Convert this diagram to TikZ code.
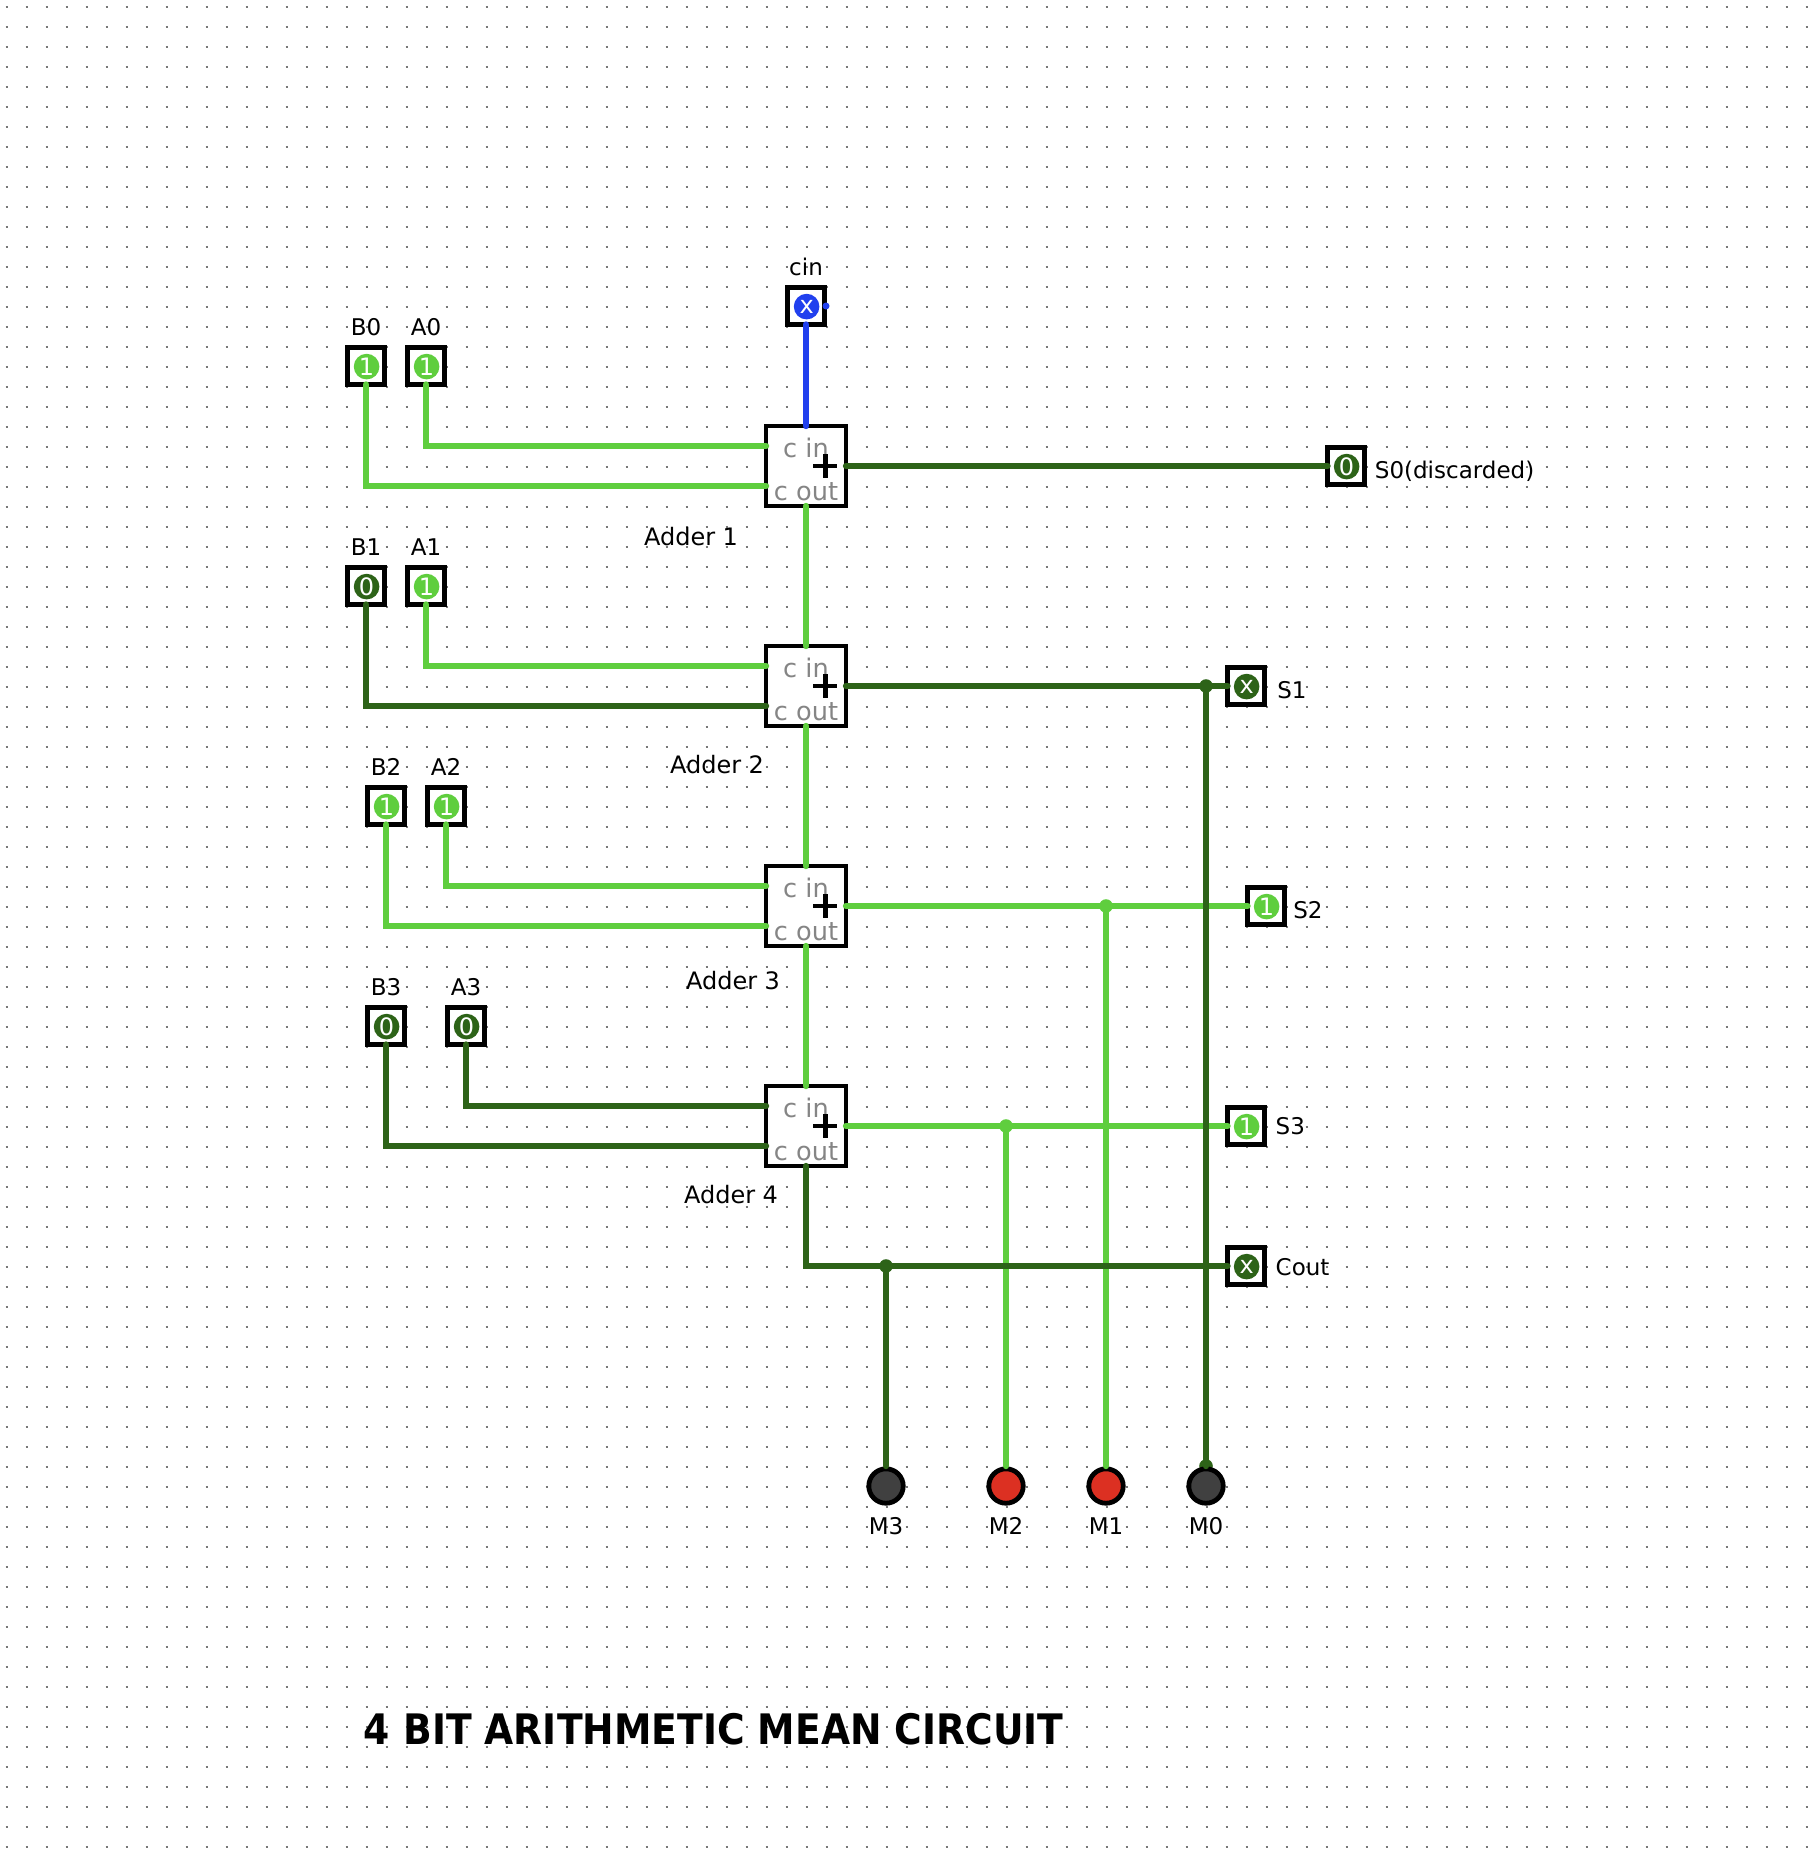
\documentclass[tikz,border=0pt]{standalone}
\usepackage{fontspec}
\setmainfont{DejaVu Sans}
\usetikzlibrary{positioning}
\definecolor{wireon}{HTML}{5FCE3E}
\definecolor{wireoff}{HTML}{2D6318}
\definecolor{wireunk}{HTML}{2140EE}
\definecolor{griddot}{HTML}{777777}
\definecolor{ledon}{HTML}{DC3022}
\definecolor{ledoff}{HTML}{404040}
\tikzset{
    iobox/.style={draw,line width=2.2pt,fill=white,minimum size=18.5pt,inner sep=0pt,outer sep=0pt},
    statedot/.style={circle,inner sep=0pt,outer sep=0pt,minimum size=12.8pt,xshift=.3pt,yshift=-.3pt,text=white,font=\fontsize{12}{12}\selectfont},
    addbox/.style={draw,line width=2.2pt,fill=white,minimum size=40pt,inner sep=0pt,outer sep=0pt},
    addtxt/.style={inner sep=0pt,text=griddot!90,anchor=base,font=\fontsize{12.8}{12}\selectfont},
    pintxt/.style={inner sep=0pt,text depth=0pt,font=\fontsize{11.5}{12}\selectfont},
    addname/.style={pintxt,anchor=base,font=\fontsize{12}{12}\selectfont},
    led/.style={circle,draw,line width=2.4pt,minimum size=17.2pt,inner sep=0pt,outer sep=0pt},
    wire/.style={line width=3.2pt,line cap=round,miter limit=10},
    joint/.style={circle,inner sep=0pt,outer sep=0pt,minimum size=6.8pt},
}
\begin{document}
\begin{tikzpicture}[x=10pt,y=-10pt]
    \useasboundingbox (-0.3335,-0.3335) rectangle (90.0665,92.7665);
    \foreach \j in {0,...,92}{
        \draw[griddot,line width=1pt,dash pattern=on 1pt off 9pt] (-.05,\j) -- (90.05,\j);
    }
    \begin{scope}[shift={(-.033,-.033)}]
    % adders
    \foreach \n/\y in {1/23,2/34,3/45,4/56}{
        \node[addbox] (adder\n) at (40,\y) {};
        \coordinate (ina\n) at (38,\y-1);
        \coordinate (inb\n) at (38,\y+1);
        \node[addtxt,yshift=-.5pt] (cin\n) at (40,\y-.5) {c in};
        \node[addtxt] (cout\n) at (40,\y+1.7) {c out};
        \draw[line width=2.2pt] (40.37,\y) -- (41.57,\y) (40.97,\y-.6) -- (40.97,\y+.6);
    }
    % input pins
    \foreach \nm/\x/\y/\val/\col in {B0/18/18/1/wireon,A0/21/18/1/wireon,
            B1/18/29/0/wireoff,A1/21/29/1/wireon,
            B2/19/40/1/wireon,A2/22/40/1/wireon,
            B3/19/51/0/wireoff,A3/23/51/0/wireoff,cin/40/15/x/wireunk}{
        \node[iobox] (pin\nm) at (\x,\y) {};
        \node[statedot,fill=\col] (dot\nm) at (pin\nm) {\val};
        \node[pintxt,above=5.9pt of pin\nm] (txt\nm) {\nm};
    }
    \node[circle,fill=wireunk,minimum size=3.5pt,inner sep=0pt] (stubcin) at (41,15) {};
    % output pins
    \foreach \nm/\x/\y/\val/\col/\gap/\dip/\txt in {S0/67/23/0/wireoff/5/6/S0(discarded),
            S1/62/34/x/wireoff/6.2/6/S1,S2/63/45/1/wireon/4.2/6/S2,
            S3/62/56/1/wireon/5.4/4.3/S3,Cout/62/63/x/wireoff/5.4/4.9/Cout}{
        \node[iobox] (pin\nm) at (\x,\y) {};
        \node[statedot,fill=\col] (dot\nm) at (pin\nm) {\val};
        \node[pintxt,anchor=base west,xshift=\gap pt,yshift=-\dip pt] (txt\nm) at (pin\nm.east) {\txt};
    }
    % leds
    \node[joint,fill=wireoff] (jointtop) at (60,73) {};
    \foreach \nm/\x/\col in {M3/44/ledoff,M2/50/ledon,M1/55/ledon,M0/60/ledoff}{
        \node[led,fill=\col] (led\nm) at (\x,74) {};
        \coordinate (tip\nm) at (\x,73);
        \node[pintxt,anchor=base] (txt\nm) at (\x,76.4) {\nm};
    }
    % adder names
    \node[addname] (name1) at (34.25,26.97) {Adder 1};
    \node[addname] (name2) at (35.55,38.36) {Adder 2};
    \node[addname] (name3) at (36.35,49.16) {Adder 3};
    \node[addname] (name4) at (36.25,59.86) {Adder 4};
    % wires
    \draw[wire,wireunk] (pincin.south) -- (adder1.north);
    \draw[wire,wireon] (pinA0.south) |- (ina1);
    \draw[wire,wireon] (pinB0.south) |- (inb1);
    \draw[wire,wireon] (pinA1.south) |- (ina2);
    \draw[wire,wireoff] (pinB1.south) |- (inb2);
    \draw[wire,wireon] (pinA2.south) |- (ina3);
    \draw[wire,wireon] (pinB2.south) |- (inb3);
    \draw[wire,wireoff] (pinA3.south) |- (ina4);
    \draw[wire,wireoff] (pinB3.south) |- (inb4);
    \draw[wire,wireon] (adder1.south) -- (adder2.north);
    \draw[wire,wireon] (adder2.south) -- (adder3.north);
    \draw[wire,wireon] (adder3.south) -- (adder4.north);
    \draw[wire,wireoff] (adder1.east) -- (pinS0.west);
    \draw[wire,wireon] (tipM1 |- adder3.east) -- (tipM1);
    \draw[wire,wireon] (adder3.east) -- (pinS2.west);
    \draw[wire,wireon] (tipM2 |- adder4.east) -- (tipM2);
    \draw[wire,wireon] (adder4.east) -- (pinS3.west);
    \draw[wire,wireoff] (tipM0 |- adder2.east) -- (tipM0);
    \draw[wire,wireoff] (adder2.east) -- (pinS1.west);
    \draw[wire,wireoff] (adder4.south) |- (pinCout.west);
    \draw[wire,wireoff] (tipM3 |- pinCout.west) -- (tipM3);
    % junctions
    \node[joint,fill=wireoff] (joint1) at (tipM0 |- adder2.east) {};
    \node[joint,fill=wireon] (joint2) at (tipM1 |- adder3.east) {};
    \node[joint,fill=wireon] (joint3) at (tipM2 |- adder4.east) {};
    \node[joint,fill=wireoff] (joint4) at (tipM3 |- pinCout.west) {};
    \node[anchor=base west,inner sep=0pt,font=\bfseries\fontsize{21}{24}\selectfont,xscale=.897] (title) at (17.88,86.9) {4 BIT ARITHMETIC MEAN CIRCUIT};
    \end{scope}
\end{tikzpicture}
\end{document}
